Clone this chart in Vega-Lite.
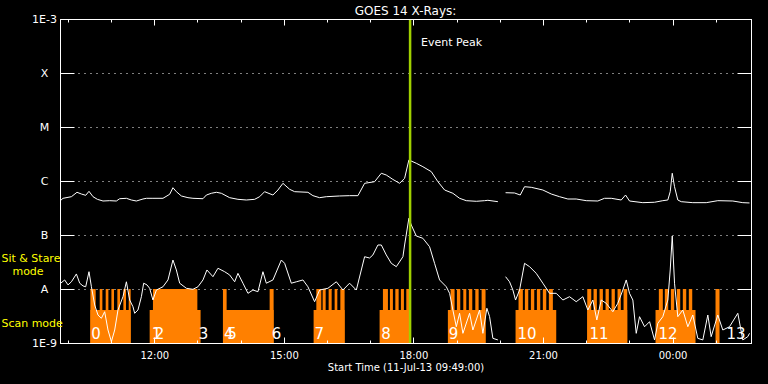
{
  "$schema": "https://vega.github.io/schema/vega-lite/v6.json",
  "width": 691,
  "height": 324,
  "autosize": "none",
  "padding": {"left": 60, "top": 19, "right": 17, "bottom": 41},
  "background": "black",
  "title": {"text": "GOES 14 X-Rays:", "color": "white", "font": "DejaVu Sans", "fontSize": 12, "fontWeight": "normal", "offset": -5, "anchor": "middle"},
  "config": {
    "view": {"stroke": "white", "strokeWidth": 1},
    "axis": {"domainColor": "white", "tickColor": "white", "labelColor": "white", "titleColor": "white", "labelFont": "DejaVu Sans", "titleFont": "DejaVu Sans", "titleFontWeight": "normal", "labelFontSize": 10, "titleFontSize": 10, "grid": false, "labelOverlap": false, "labelFlush": false, "domainWidth": 1, "tickWidth": 1}
  },
  "datasets": {
    "rects": [
      {"t0": 10.520, "t1": 11.453, "top": 4.1e-9},
      {"t0": 10.520, "t1": 10.643, "top": 1e-8},
      {"t0": 10.736, "t1": 10.798, "top": 1e-8},
      {"t0": 10.875, "t1": 10.937, "top": 1e-8},
      {"t0": 11.007, "t1": 11.067, "top": 1e-8},
      {"t0": 11.145, "t1": 11.206, "top": 1e-8},
      {"t0": 11.284, "t1": 11.345, "top": 1e-8},
      {"t0": 11.408, "t1": 11.453, "top": 1e-8},
      {"t0": 11.893, "t1": 13.072, "top": 4.1e-9},
      {"t0": 11.969, "t1": 12.997, "top": 1e-8},
      {"t0": 13.590, "t1": 14.763, "top": 4.1e-9},
      {"t0": 13.590, "t1": 13.675, "top": 1e-8},
      {"t0": 14.671, "t1": 14.763, "top": 1e-8},
      {"t0": 15.689, "t1": 16.407, "top": 4.1e-9},
      {"t0": 15.752, "t1": 15.867, "top": 1e-8},
      {"t0": 15.898, "t1": 15.968, "top": 1e-8},
      {"t0": 16.037, "t1": 16.107, "top": 1e-8},
      {"t0": 16.176, "t1": 16.238, "top": 1e-8},
      {"t0": 16.308, "t1": 16.407, "top": 1e-8},
      {"t0": 17.217, "t1": 17.911, "top": 4.1e-9},
      {"t0": 17.294, "t1": 17.410, "top": 1e-8},
      {"t0": 17.456, "t1": 17.525, "top": 1e-8},
      {"t0": 17.581, "t1": 17.658, "top": 1e-8},
      {"t0": 17.710, "t1": 17.780, "top": 1e-8},
      {"t0": 17.835, "t1": 17.911, "top": 1e-8},
      {"t0": 18.798, "t1": 19.670, "top": 4.1e-9},
      {"t0": 18.861, "t1": 18.953, "top": 1e-8},
      {"t0": 19.007, "t1": 19.085, "top": 1e-8},
      {"t0": 19.155, "t1": 19.224, "top": 1e-8},
      {"t0": 19.284, "t1": 19.363, "top": 1e-8},
      {"t0": 19.433, "t1": 19.510, "top": 1e-8},
      {"t0": 19.579, "t1": 19.670, "top": 1e-8},
      {"t0": 20.365, "t1": 21.307, "top": 4.1e-9},
      {"t0": 20.434, "t1": 20.534, "top": 1e-8},
      {"t0": 20.581, "t1": 20.659, "top": 1e-8},
      {"t0": 20.720, "t1": 20.798, "top": 1e-8},
      {"t0": 20.859, "t1": 20.937, "top": 1e-8},
      {"t0": 20.997, "t1": 21.076, "top": 1e-8},
      {"t0": 21.136, "t1": 21.229, "top": 1e-8},
      {"t0": 22.025, "t1": 22.951, "top": 4.1e-9},
      {"t0": 22.025, "t1": 22.118, "top": 1e-8},
      {"t0": 22.171, "t1": 22.248, "top": 1e-8},
      {"t0": 22.310, "t1": 22.387, "top": 1e-8},
      {"t0": 22.449, "t1": 22.525, "top": 1e-8},
      {"t0": 22.588, "t1": 22.664, "top": 1e-8},
      {"t0": 22.727, "t1": 22.803, "top": 1e-8},
      {"t0": 22.866, "t1": 22.951, "top": 1e-8},
      {"t0": 23.606, "t1": 24.532, "top": 4.1e-9},
      {"t0": 23.683, "t1": 23.775, "top": 1e-8},
      {"t0": 23.821, "t1": 23.900, "top": 1e-8},
      {"t0": 23.961, "t1": 24.039, "top": 1e-8},
      {"t0": 24.100, "t1": 24.178, "top": 1e-8},
      {"t0": 24.238, "t1": 24.317, "top": 1e-8},
      {"t0": 24.377, "t1": 24.456, "top": 1e-8},
      {"t0": 24.995, "t1": 25.088, "top": 1e-8}
    ],
    "lines": [
      {"s": "long1", "t": 9.817, "f": 4.26e-7},
      {"s": "long1", "t": 9.886, "f": 4.78e-7},
      {"s": "long1", "t": 10.081, "f": 5.12e-7},
      {"s": "long1", "t": 10.210, "f": 6.18e-7},
      {"s": "long1", "t": 10.312, "f": 5.74e-7},
      {"s": "long1", "t": 10.412, "f": 5.43e-7},
      {"s": "long1", "t": 10.488, "f": 6.44e-7},
      {"s": "long1", "t": 10.581, "f": 5.12e-7},
      {"s": "long1", "t": 10.682, "f": 4.58e-7},
      {"s": "long1", "t": 10.812, "f": 4.26e-7},
      {"s": "long1", "t": 10.967, "f": 4.32e-7},
      {"s": "long1", "t": 11.122, "f": 4.26e-7},
      {"s": "long1", "t": 11.199, "f": 4.70e-7},
      {"s": "long1", "t": 11.354, "f": 4.78e-7},
      {"s": "long1", "t": 11.469, "f": 4.45e-7},
      {"s": "long1", "t": 11.585, "f": 4.26e-7},
      {"s": "long1", "t": 11.738, "f": 4.64e-7},
      {"s": "long1", "t": 11.817, "f": 4.78e-7},
      {"s": "long1", "t": 11.969, "f": 4.78e-7},
      {"s": "long1", "t": 12.201, "f": 4.78e-7},
      {"s": "long1", "t": 12.356, "f": 5.67e-7},
      {"s": "long1", "t": 12.432, "f": 7.51e-7},
      {"s": "long1", "t": 12.511, "f": 6.34e-7},
      {"s": "long1", "t": 12.627, "f": 5.28e-7},
      {"s": "long1", "t": 12.780, "f": 4.91e-7},
      {"s": "long1", "t": 12.895, "f": 4.78e-7},
      {"s": "long1", "t": 13.127, "f": 4.70e-7},
      {"s": "long1", "t": 13.206, "f": 5.5e-7},
      {"s": "long1", "t": 13.321, "f": 5.92e-7},
      {"s": "long1", "t": 13.437, "f": 6.18e-7},
      {"s": "long1", "t": 13.553, "f": 5.92e-7},
      {"s": "long1", "t": 13.745, "f": 4.91e-7},
      {"s": "long1", "t": 13.937, "f": 4.58e-7},
      {"s": "long1", "t": 14.131, "f": 4.45e-7},
      {"s": "long1", "t": 14.324, "f": 4.58e-7},
      {"s": "long1", "t": 14.439, "f": 5.12e-7},
      {"s": "long1", "t": 14.555, "f": 6.34e-7},
      {"s": "long1", "t": 14.747, "f": 5.5e-7},
      {"s": "long1", "t": 14.863, "f": 6.81e-7},
      {"s": "long1", "t": 14.979, "f": 9.06e-7},
      {"s": "long1", "t": 15.134, "f": 7.02e-7},
      {"s": "long1", "t": 15.250, "f": 6.34e-7},
      {"s": "long1", "t": 15.557, "f": 6.18e-7},
      {"s": "long1", "t": 15.673, "f": 5.35e-7},
      {"s": "long1", "t": 15.828, "f": 4.91e-7},
      {"s": "long1", "t": 15.983, "f": 5.12e-7},
      {"s": "long1", "t": 16.291, "f": 5.28e-7},
      {"s": "long1", "t": 16.523, "f": 5.35e-7},
      {"s": "long1", "t": 16.715, "f": 5.35e-7},
      {"s": "long1", "t": 16.870, "f": 9.06e-7},
      {"s": "long1", "t": 17.101, "f": 9.7e-7},
      {"s": "long1", "t": 17.257, "f": 1.39e-6},
      {"s": "long1", "t": 17.372, "f": 1.29e-6},
      {"s": "long1", "t": 17.525, "f": 1.07e-6},
      {"s": "long1", "t": 17.680, "f": 9.06e-7},
      {"s": "long1", "t": 17.796, "f": 1.12e-6},
      {"s": "long1", "t": 17.895, "f": 2.45e-6},
      {"s": "long1", "t": 18.067, "f": 2.13e-6},
      {"s": "long1", "t": 18.219, "f": 1.84e-6},
      {"s": "long1", "t": 18.414, "f": 1.49e-6},
      {"s": "long1", "t": 18.567, "f": 9.7e-7},
      {"s": "long1", "t": 18.722, "f": 6.81e-7},
      {"s": "long1", "t": 18.914, "f": 5.92e-7},
      {"s": "long1", "t": 19.069, "f": 4.78e-7},
      {"s": "long1", "t": 19.224, "f": 4.32e-7},
      {"s": "long1", "t": 19.456, "f": 4.21e-7},
      {"s": "long1", "t": 19.648, "f": 4.32e-7},
      {"s": "long1", "t": 19.724, "f": 4.39e-7},
      {"s": "long1", "t": 19.956, "f": 4.14e-7},
      {"s": "long2", "t": 20.134, "f": 6.07e-7},
      {"s": "long2", "t": 20.342, "f": 6.0e-7},
      {"s": "long2", "t": 20.474, "f": 5.5e-7},
      {"s": "long2", "t": 20.573, "f": 7.84e-7},
      {"s": "long2", "t": 20.729, "f": 7.64e-7},
      {"s": "long2", "t": 20.997, "f": 6.81e-7},
      {"s": "long2", "t": 21.192, "f": 5.74e-7},
      {"s": "long2", "t": 21.384, "f": 5.12e-7},
      {"s": "long2", "t": 21.576, "f": 4.64e-7},
      {"s": "long2", "t": 21.770, "f": 4.64e-7},
      {"s": "long2", "t": 22.002, "f": 4.32e-7},
      {"s": "long2", "t": 22.270, "f": 4.26e-7},
      {"s": "long2", "t": 22.425, "f": 4.78e-7},
      {"s": "long2", "t": 22.581, "f": 4.78e-7},
      {"s": "long2", "t": 22.812, "f": 4.45e-7},
      {"s": "long2", "t": 22.912, "f": 5.5e-7},
      {"s": "long2", "t": 23.004, "f": 4.26e-7},
      {"s": "long2", "t": 23.312, "f": 3.97e-7},
      {"s": "long2", "t": 23.583, "f": 4.04e-7},
      {"s": "long2", "t": 23.775, "f": 4.32e-7},
      {"s": "long2", "t": 23.891, "f": 4.45e-7},
      {"s": "long2", "t": 23.946, "f": 6.34e-7},
      {"s": "long2", "t": 23.993, "f": 1.39e-6},
      {"s": "long2", "t": 24.046, "f": 7.84e-7},
      {"s": "long2", "t": 24.122, "f": 4.45e-7},
      {"s": "long2", "t": 24.201, "f": 4.14e-7},
      {"s": "long2", "t": 24.469, "f": 3.97e-7},
      {"s": "long2", "t": 24.780, "f": 3.97e-7},
      {"s": "long2", "t": 25.048, "f": 4.32e-7},
      {"s": "long2", "t": 25.396, "f": 4.26e-7},
      {"s": "long2", "t": 25.627, "f": 3.97e-7},
      {"s": "long2", "t": 25.782, "f": 3.92e-7},
      {"s": "short1", "t": 9.833, "f": 1.28e-8},
      {"s": "short1", "t": 9.925, "f": 1.47e-8},
      {"s": "short1", "t": 10.002, "f": 1.19e-8},
      {"s": "short1", "t": 10.081, "f": 1.36e-8},
      {"s": "short1", "t": 10.196, "f": 1.90e-8},
      {"s": "short1", "t": 10.273, "f": 1.28e-8},
      {"s": "short1", "t": 10.349, "f": 1.14e-8},
      {"s": "short1", "t": 10.412, "f": 1.10e-8},
      {"s": "short1", "t": 10.488, "f": 2.09e-8},
      {"s": "short1", "t": 10.544, "f": 1.10e-8},
      {"s": "short1", "t": 10.620, "f": 5.06e-9},
      {"s": "short1", "t": 10.696, "f": 3.30e-9},
      {"s": "short1", "t": 10.775, "f": 2.87e-9},
      {"s": "short1", "t": 10.851, "f": 3.80e-9},
      {"s": "short1", "t": 10.928, "f": 1.74e-9},
      {"s": "short1", "t": 11.007, "f": 1.06e-9},
      {"s": "short1", "t": 11.083, "f": 1.74e-9},
      {"s": "short1", "t": 11.159, "f": 4.08e-9},
      {"s": "short1", "t": 11.275, "f": 7.2e-9},
      {"s": "short1", "t": 11.354, "f": 1.36e-8},
      {"s": "short1", "t": 11.430, "f": 6.25e-9},
      {"s": "short1", "t": 11.506, "f": 4.70e-9},
      {"s": "short1", "t": 11.546, "f": 3.55e-9},
      {"s": "short1", "t": 11.622, "f": 4.08e-9},
      {"s": "short1", "t": 11.701, "f": 7.2e-9},
      {"s": "short1", "t": 11.754, "f": 1.28e-8},
      {"s": "short1", "t": 11.831, "f": 1.19e-8},
      {"s": "short1", "t": 11.893, "f": 1.03e-8},
      {"s": "short1", "t": 11.969, "f": 6.25e-9},
      {"s": "short1", "t": 12.048, "f": 9.57e-9},
      {"s": "short1", "t": 12.201, "f": 1.10e-8},
      {"s": "short1", "t": 12.317, "f": 1.47e-8},
      {"s": "short1", "t": 12.432, "f": 3.44e-8},
      {"s": "short1", "t": 12.511, "f": 2.25e-8},
      {"s": "short1", "t": 12.588, "f": 1.28e-8},
      {"s": "short1", "t": 12.743, "f": 1.03e-8},
      {"s": "short1", "t": 12.895, "f": 9.87e-9},
      {"s": "short1", "t": 13.011, "f": 1.10e-8},
      {"s": "short1", "t": 13.127, "f": 1.47e-8},
      {"s": "short1", "t": 13.219, "f": 2.25e-8},
      {"s": "short1", "t": 13.358, "f": 1.69e-8},
      {"s": "short1", "t": 13.474, "f": 2.42e-8},
      {"s": "short1", "t": 13.629, "f": 2.09e-8},
      {"s": "short1", "t": 13.745, "f": 1.82e-8},
      {"s": "short1", "t": 13.861, "f": 1.36e-8},
      {"s": "short1", "t": 13.937, "f": 1.95e-8},
      {"s": "short1", "t": 14.053, "f": 1.28e-8},
      {"s": "short1", "t": 14.169, "f": 8.32e-9},
      {"s": "short1", "t": 14.284, "f": 9.57e-9},
      {"s": "short1", "t": 14.400, "f": 8.91e-9},
      {"s": "short1", "t": 14.516, "f": 2.09e-8},
      {"s": "short1", "t": 14.594, "f": 1.28e-8},
      {"s": "short1", "t": 14.747, "f": 1.47e-8},
      {"s": "short1", "t": 14.942, "f": 3.44e-8},
      {"s": "short1", "t": 15.018, "f": 2.99e-8},
      {"s": "short1", "t": 15.173, "f": 1.28e-8},
      {"s": "short1", "t": 15.289, "f": 1.36e-8},
      {"s": "short1", "t": 15.442, "f": 1.47e-8},
      {"s": "short1", "t": 15.557, "f": 1.10e-8},
      {"s": "short1", "t": 15.712, "f": 5.82e-9},
      {"s": "short1", "t": 15.828, "f": 9.57e-9},
      {"s": "short1", "t": 16.020, "f": 1.03e-8},
      {"s": "short1", "t": 16.215, "f": 1.36e-8},
      {"s": "short1", "t": 16.368, "f": 9.57e-9},
      {"s": "short1", "t": 16.522, "f": 1.28e-8},
      {"s": "short1", "t": 16.678, "f": 9.57e-9},
      {"s": "short1", "t": 16.870, "f": 3.96e-8},
      {"s": "short1", "t": 16.985, "f": 3.75e-8},
      {"s": "short1", "t": 17.062, "f": 4.27e-8},
      {"s": "short1", "t": 17.178, "f": 6.53e-8},
      {"s": "short1", "t": 17.257, "f": 6.53e-8},
      {"s": "short1", "t": 17.372, "f": 4.27e-8},
      {"s": "short1", "t": 17.488, "f": 2.99e-8},
      {"s": "short1", "t": 17.604, "f": 2.59e-8},
      {"s": "short1", "t": 17.757, "f": 3.96e-8},
      {"s": "short1", "t": 17.796, "f": 6.53e-8},
      {"s": "short1", "t": 17.895, "f": 2.04e-7},
      {"s": "short1", "t": 17.951, "f": 1.53e-7},
      {"s": "short1", "t": 18.067, "f": 9.58e-8},
      {"s": "short1", "t": 18.219, "f": 8.69e-8},
      {"s": "short1", "t": 18.374, "f": 6.07e-8},
      {"s": "short1", "t": 18.490, "f": 2.99e-8},
      {"s": "short1", "t": 18.606, "f": 1.47e-8},
      {"s": "short1", "t": 18.761, "f": 1.10e-8},
      {"s": "short1", "t": 18.838, "f": 8.32e-9},
      {"s": "short1", "t": 18.914, "f": 4.08e-9},
      {"s": "short1", "t": 18.993, "f": 2.0e-9},
      {"s": "short1", "t": 19.069, "f": 3.55e-9},
      {"s": "short1", "t": 19.146, "f": 1.51e-9},
      {"s": "short1", "t": 19.301, "f": 3.55e-9},
      {"s": "short1", "t": 19.377, "f": 1.74e-9},
      {"s": "short1", "t": 19.532, "f": 4.08e-9},
      {"s": "short1", "t": 19.609, "f": 1.51e-9},
      {"s": "short1", "t": 19.701, "f": 4.40e-9},
      {"s": "short1", "t": 19.764, "f": 3.07e-9},
      {"s": "short1", "t": 19.840, "f": 1.22e-9},
      {"s": "short1", "t": 19.956, "f": 1.14e-9},
      {"s": "short2", "t": 20.134, "f": 1.69e-8},
      {"s": "short2", "t": 20.226, "f": 1.36e-8},
      {"s": "short2", "t": 20.303, "f": 9.57e-9},
      {"s": "short2", "t": 20.365, "f": 6.25e-9},
      {"s": "short2", "t": 20.458, "f": 9.57e-9},
      {"s": "short2", "t": 20.573, "f": 2.99e-8},
      {"s": "short2", "t": 20.689, "f": 2.59e-8},
      {"s": "short2", "t": 20.844, "f": 1.95e-8},
      {"s": "short2", "t": 20.997, "f": 1.28e-8},
      {"s": "short2", "t": 21.152, "f": 8.32e-9},
      {"s": "short2", "t": 21.307, "f": 8.32e-9},
      {"s": "short2", "t": 21.460, "f": 6.25e-9},
      {"s": "short2", "t": 21.615, "f": 7.2e-9},
      {"s": "short2", "t": 21.770, "f": 5.82e-9},
      {"s": "short2", "t": 21.923, "f": 7.2e-9},
      {"s": "short2", "t": 22.039, "f": 4.08e-9},
      {"s": "short2", "t": 22.155, "f": 6.25e-9},
      {"s": "short2", "t": 22.247, "f": 2.67e-9},
      {"s": "short2", "t": 22.349, "f": 6.25e-9},
      {"s": "short2", "t": 22.465, "f": 5.43e-9},
      {"s": "short2", "t": 22.618, "f": 3.80e-9},
      {"s": "short2", "t": 22.733, "f": 5.43e-9},
      {"s": "short2", "t": 22.849, "f": 9.57e-9},
      {"s": "short2", "t": 22.928, "f": 1.47e-8},
      {"s": "short2", "t": 23.004, "f": 8.32e-9},
      {"s": "short2", "t": 23.081, "f": 6.25e-9},
      {"s": "short2", "t": 23.159, "f": 1.51e-9},
      {"s": "short2", "t": 23.236, "f": 3.07e-9},
      {"s": "short2", "t": 23.352, "f": 2.0e-9},
      {"s": "short2", "t": 23.468, "f": 2.48e-9},
      {"s": "short2", "t": 23.583, "f": 1.14e-9},
      {"s": "short2", "t": 23.660, "f": 2.32e-9},
      {"s": "short2", "t": 23.775, "f": 3.07e-9},
      {"s": "short2", "t": 23.891, "f": 6.25e-9},
      {"s": "short2", "t": 23.946, "f": 2.25e-8},
      {"s": "short2", "t": 23.993, "f": 9.58e-8},
      {"s": "short2", "t": 24.046, "f": 1.28e-8},
      {"s": "short2", "t": 24.122, "f": 3.07e-9},
      {"s": "short2", "t": 24.238, "f": 4.08e-9},
      {"s": "short2", "t": 24.354, "f": 2.0e-9},
      {"s": "short2", "t": 24.469, "f": 3.30e-9},
      {"s": "short2", "t": 24.585, "f": 1.22e-9},
      {"s": "short2", "t": 24.701, "f": 1.14e-9},
      {"s": "short2", "t": 24.817, "f": 3.30e-9},
      {"s": "short2", "t": 24.894, "f": 1.31e-9},
      {"s": "short2", "t": 25.048, "f": 3.30e-9},
      {"s": "short2", "t": 25.164, "f": 1.74e-9},
      {"s": "short2", "t": 25.319, "f": 2.0e-9},
      {"s": "short2", "t": 25.511, "f": 3.55e-9},
      {"s": "short2", "t": 25.627, "f": 1.14e-9},
      {"s": "short2", "t": 25.743, "f": 1.31e-9},
      {"s": "short2", "t": 25.782, "f": 1.51e-9}
    ],
    "nums": [
      {"t": 10.543, "f": 1.19e-9, "label": "0"},
      {"t": 11.939, "f": 1.19e-9, "label": "1"},
      {"t": 12.009, "f": 1.19e-9, "label": "2"},
      {"t": 13.027, "f": 1.19e-9, "label": "3"},
      {"t": 13.613, "f": 1.19e-9, "label": "4"},
      {"t": 13.692, "f": 1.19e-9, "label": "5"},
      {"t": 14.717, "f": 1.19e-9, "label": "6"},
      {"t": 15.712, "f": 1.19e-9, "label": "7"},
      {"t": 17.256, "f": 1.19e-9, "label": "8"},
      {"t": 18.821, "f": 1.19e-9, "label": "9"},
      {"t": 20.411, "f": 1.19e-9, "label": "10"},
      {"t": 22.078, "f": 1.19e-9, "label": "11"},
      {"t": 23.676, "f": 1.19e-9, "label": "12"},
      {"t": 25.250, "f": 1.19e-9, "label": "13"}
    ],
    "side": [
      {"t": 8.46, "f": 3.2e-8, "label": "Sit & Stare"},
      {"t": 8.715, "f": 1.82e-8, "label": "mode"},
      {"t": 8.46, "f": 1.95e-9, "label": "Scan mode"}
    ],
    "peak": [
      {"t": 17.923, "f": 3.1e-4, "label": "Event Peak"}
    ]
  },
  "resolve": {"scale": {"x": "shared", "y": "shared"}, "axis": {"x": "independent", "y": "independent"}},
  "layer": [
    {
      "data": {"name": "rects"},
      "mark": {"type": "rect", "color": "#ff8000"},
      "encoding": {
        "x": {"field": "t0", "type": "quantitative", "scale": {"domain": [9.8167, 25.8167], "nice": false, "zero": false},
          "axis": {"orient": "bottom", "values": [10,11,12,13,14,15,16,17,18,19,20,21,22,23,24,25],
            "labelExpr": "datum.value % 3 === 0 ? ((datum.value % 24) < 10 ? '0' : '') + (datum.value % 24) + ':00' : ''",
            "tickSize": {"condition": {"test": "datum.value % 3 === 0", "value": -6}, "value": -3},
            "labelPadding": 13, "title": "Start Time (11-Jul-13 09:49:00)", "titlePadding": -1, "zindex": 1}},
        "x2": {"field": "t1"},
        "y": {"field": "top", "type": "quantitative", "scale": {"type": "log", "domain": [1e-9, 1e-3], "nice": false},
          "axis": {"orient": "left", "values": [1e-9,1e-8,1e-7,1e-6,1e-5,1e-4,1e-3],
            "labelExpr": "datum.value < 3e-9 ? '1E-9' : datum.value < 3e-8 ? 'A' : datum.value < 3e-7 ? 'B' : datum.value < 3e-6 ? 'C' : datum.value < 3e-5 ? 'M' : datum.value < 3e-4 ? 'X' : '1E-3'",
            "tickSize": -14, "labelPadding": 30, "labelAlign": "center", "labelFontSize": 11,
            "grid": true, "gridColor": "white", "gridDash": [1, 5], "gridWidth": 1, "title": null, "zindex": 0}},
        "y2": {"datum": 1e-9}
      }
    },
    {
      "data": {"name": "lines"},
      "mark": {"type": "line", "color": "white", "strokeWidth": 1, "clip": true},
      "encoding": {
        "x": {"field": "t", "type": "quantitative", "scale": {"domain": [9.8167, 25.8167], "nice": false, "zero": false},
          "axis": {"orient": "top", "values": [10,11,12,13,14,15,16,17,18,19,20,21,22,23,24,25], "labels": false,
            "tickSize": {"condition": {"test": "datum.value % 3 === 0", "value": -6}, "value": -3}, "title": null, "zindex": 1}},
        "y": {"field": "f", "type": "quantitative", "scale": {"type": "log", "domain": [1e-9, 1e-3], "nice": false},
          "axis": {"orient": "right", "values": [1e-9,1e-8,1e-7,1e-6,1e-5,1e-4,1e-3], "labels": false, "tickSize": -14, "title": null, "zindex": 1}},
        "detail": {"field": "s"}
      }
    },
    {
      "data": {"name": "peak"},
      "mark": {"type": "rule", "color": "#a0d000", "strokeWidth": 2.5},
      "encoding": {
        "x": {"field": "t", "type": "quantitative", "scale": {"domain": [9.8167, 25.8167], "nice": false, "zero": false}, "axis": null}
      }
    },
    {
      "data": {"name": "peak"},
      "mark": {"type": "text", "color": "white", "font": "DejaVu Sans", "fontSize": 11, "align": "left", "baseline": "alphabetic", "dx": 11},
      "encoding": {
        "x": {"field": "t", "type": "quantitative", "scale": {"domain": [9.8167, 25.8167], "nice": false, "zero": false}, "axis": null},
        "y": {"field": "f", "type": "quantitative", "scale": {"type": "log", "domain": [1e-9, 1e-3], "nice": false}, "axis": null},
        "text": {"field": "label"}
      }
    },
    {
      "data": {"name": "nums"},
      "mark": {"type": "text", "color": "white", "font": "DejaVu Sans", "fontSize": 15, "align": "left", "baseline": "alphabetic"},
      "encoding": {
        "x": {"field": "t", "type": "quantitative", "scale": {"domain": [9.8167, 25.8167], "nice": false, "zero": false}, "axis": null},
        "y": {"field": "f", "type": "quantitative", "scale": {"type": "log", "domain": [1e-9, 1e-3], "nice": false}, "axis": null},
        "text": {"field": "label"}
      }
    },
    {
      "data": {"name": "side"},
      "mark": {"type": "text", "color": "#ffff00", "font": "DejaVu Sans", "fontSize": 11, "align": "left", "baseline": "alphabetic"},
      "encoding": {
        "x": {"field": "t", "type": "quantitative", "scale": {"domain": [9.8167, 25.8167], "nice": false, "zero": false}, "axis": null},
        "y": {"field": "f", "type": "quantitative", "scale": {"type": "log", "domain": [1e-9, 1e-3], "nice": false}, "axis": null},
        "text": {"field": "label"}
      }
    }
  ]
}
